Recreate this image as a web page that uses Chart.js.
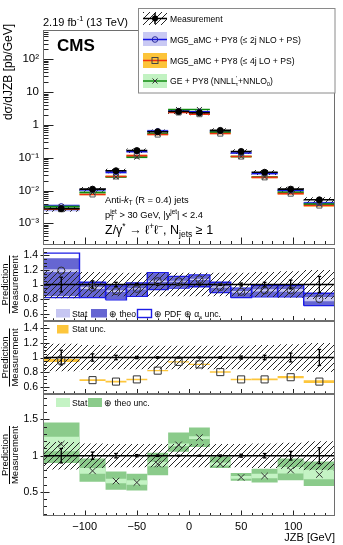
<!DOCTYPE html>
<html>
<head>
<meta charset="utf-8">
<script src="https://cdn.jsdelivr.net/npm/chart.js@4.4.1/dist/chart.umd.min.js"></script>
<style>
html,body{margin:0;padding:0;background:#fff;}
#wrap{position:relative;width:343px;height:545px;overflow:hidden;background:#fff;}
#wrap canvas{position:absolute;left:0;}
</style>
</head>
<body>
<div id="wrap">
<canvas id="cA" width="343" height="250" style="top:0px;width:343px;height:250px"></canvas>
<canvas id="cB" width="343" height="76" style="top:246px;width:343px;height:76px"></canvas>
<canvas id="cC" width="343" height="77" style="top:319px;width:343px;height:77px"></canvas>
<canvas id="cD" width="343" height="155" style="top:390px;width:343px;height:155px"></canvas>
</div>
<script>
// ---------------- data ----------------
const binEdges   = [-140,-105,-80,-60,-40,-20,0,20,40,60,85,110,140];
const measured   = [2.8e-3,1.1e-2,4.0e-2,0.165,0.62,2.55,2.35,0.68,0.155,0.036,1.1e-2,5.2e-3];
const measStat   = [0.10,0.05,0.03,0.015,0.01,0.006,0.006,0.01,0.02,0.03,0.06,0.11];
const measTotal  = [0.19,0.17,0.16,0.16,0.16,0.16,0.16,0.16,0.16,0.17,0.18,0.20];

const nloRatio   = [1.19,0.955,0.91,0.94,1.045,1.045,1.07,0.965,0.90,0.92,0.92,0.80];
const nloStat    = [0.02,0.015,0.012,0.01,0.01,0.008,0.008,0.01,0.012,0.015,0.02,0.03];
const nloTheoLo  = [0.84,0.83,0.80,0.85,0.94,0.96,0.98,0.90,0.83,0.84,0.84,0.72];
const nloTheoHi  = [1.36,1.02,0.97,1.01,1.15,1.10,1.12,1.02,0.94,0.98,0.98,0.87];
const nloPdfLo   = [0.82,0.82,0.79,0.84,0.93,0.95,0.97,0.89,0.82,0.83,0.83,0.71];
const nloPdfHi   = [1.43,1.03,0.98,1.02,1.16,1.11,1.13,1.03,0.95,0.99,0.99,0.88];

const loRatio    = [0.96,0.69,0.67,0.70,0.82,0.94,0.905,0.80,0.70,0.70,0.73,0.67];
const loStat     = [0.02,0.012,0.012,0.01,0.01,0.008,0.008,0.01,0.01,0.012,0.015,0.02];

const geRatio    = [1.16,0.79,0.65,0.63,0.885,1.15,1.25,0.885,0.70,0.72,0.80,0.74];
const geStat     = [0.10,0.04,0.03,0.03,0.03,0.02,0.02,0.02,0.02,0.03,0.045,0.065];
const geTheoLo   = [0.90,0.64,0.53,0.52,0.73,1.055,1.12,0.83,0.655,0.63,0.66,0.58];
const geTheoHi   = [1.46,0.96,0.78,0.75,1.04,1.32,1.39,0.99,0.76,0.82,0.96,0.92];

const logTicks       = [1e-3,1e-2,1e-1,1,10,100];
const logTickLabels  = ['10⁻³','10⁻²','10⁻¹','1','10','10²'];
const ratioTicks     = [0.6,0.8,1.0,1.2,1.4];
const ratioTickLabels= ['0.6','0.8','1','1.2','1.4'];
const geTicks        = [0.5,1,1.5];
const geTickLabels   = ['0.5','1','1.5'];
const xTicks         = [-100,-50,0,50,100];
const xTickLabels    = ['−100','−50','0','50','100'];

// ---------------- helpers ----------------
const FAM = '"Liberation Sans", Arial, Helvetica, sans-serif';
Chart.defaults.font.family = FAM;
Chart.defaults.color = '#000';

const xMinor=[]; for(let v=-130; v<=130; v+=10) if(v%50!==0) xMinor.push(v);
const logMinor=[]; for(let d=-4; d<=2; d++) for(let k=2;k<=9;k++){const v=k*Math.pow(10,d); if(v>2.26e-4&&v<781) logMinor.push(v);}
const ratioMinor=[]; for(let k=11;k<=29;k++){ if(k%4!==0) ratioMinor.push(k*0.05);}
const geMinor=[]; for(let k=2;k<=18;k++){ if(k%5!==0) geMinor.push(k/10);}

const centers = binEdges.slice(0,-1).map((e,i)=>(e+binEdges[i+1])/2);

const hatchTile=document.createElement('canvas'); hatchTile.width=6; hatchTile.height=6;
{const g=hatchTile.getContext('2d'); g.strokeStyle='#262626'; g.lineWidth=1;
 g.beginPath(); g.moveTo(-1,7); g.lineTo(7,-1); g.moveTo(5,7); g.lineTo(7,5); g.moveTo(-1,1); g.lineTo(1,-1); g.stroke();}
const hatch=document.getElementById('cA').getContext('2d').createPattern(hatchTile,'repeat');

function boxSet(lo, hi, o){
  return lo.map((l,i)=>({type:'line',
    data:[{x:binEdges[i],y:l},{x:binEdges[i+1],y:l},{x:binEdges[i+1],y:hi[i]},{x:binEdges[i],y:hi[i]},{x:binEdges[i],y:l}],
    backgroundColor:o.fill||'rgba(0,0,0,0)', borderColor:o.line||'rgba(0,0,0,0)', borderWidth:o.lw||0,
    borderJoinStyle:'miter', fill:o.fill?'shape':false, pointRadius:0, tension:0, order:o.order}));
}
function stepSet(vals, o){
  const d=[]; vals.forEach((v,i)=>{d.push({x:binEdges[i],y:v},{x:binEdges[i+1],y:v}); if(o.gaps) d.push({x:binEdges[i+1],y:null});});
  return {type:'line', data:d, borderColor:o.color, borderWidth:o.lw, pointRadius:0, fill:false, tension:0, spanGaps:false, order:o.order};
}
function errSet(lo, hi, o){
  const d=[]; lo.forEach((l,i)=>{d.push({x:centers[i],y:l},{x:centers[i],y:hi[i]},{x:centers[i],y:null});});
  return {type:'line', data:d, borderColor:o.color, borderWidth:o.lw, pointStyle:'line', pointRadius:o.cap||0,
    pointBorderColor:o.color, pointBorderWidth:o.lw, fill:false, spanGaps:false, order:o.order};
}
function markSet(vals, o){
  return {type:'line', showLine:false, data:vals.map((v,i)=>({x:centers[i],y:v})), pointStyle:o.style, pointRadius:o.r,
    pointBorderColor:o.color, pointBackgroundColor:o.bg||'rgba(0,0,0,0)', pointBorderWidth:o.lw||1, order:o.order};
}
function setFont(ctx,size,bold,italic){ctx.font=(italic?'italic ':'')+(bold?'bold ':'')+size+'px '+FAM;}
function rich(ctx,x,y,parts,size){
  let cx=x;
  for(const p of parts){
    if(p.s==='supsub'){
      setFont(ctx,size*0.68); ctx.fillText(p.t,cx,y-size*0.42); const w1=ctx.measureText(p.t).width;
      ctx.fillText(p.t2,cx,y+size*0.25); const w2=ctx.measureText(p.t2).width; cx+=Math.max(w1,w2); continue;
    }
    let sz=size, dy=0;
    if(p.s==='sup'){sz=size*0.68; dy=-size*0.42;}
    if(p.s==='sub'){sz=size*0.68; dy=size*0.25;}
    setFont(ctx,sz,p.b,p.i); ctx.fillText(p.t,cx,y+dy); cx+=ctx.measureText(p.t).width;
  }
  return cx-x;
}
function frameTicks(chart,cfg){
  const ctx=chart.ctx,a=chart.chartArea,xs=chart.scales.x,ys=chart.scales.y;
  const L=Math.round(a.left)+0.5,R=Math.round(a.right)-0.5,T=Math.round(a.top)+0.5,B=Math.round(a.bottom)-0.5;
  ctx.save(); ctx.lineWidth=1; ctx.strokeStyle='#222'; ctx.beginPath();
  cfg.yMaj.forEach(v=>{const y=Math.round(ys.getPixelForValue(v))+0.5; ctx.moveTo(L-cfg.yOut,y); ctx.lineTo(L+cfg.yMajLen,y);});
  cfg.yMin.forEach(v=>{const y=Math.round(ys.getPixelForValue(v))+0.5; if(y<=T||y>=B) return; ctx.moveTo(L,y); ctx.lineTo(L+cfg.yMinLen,y);});
  xTicks.forEach(v=>{const x=Math.round(xs.getPixelForValue(v))+0.5; ctx.moveTo(x,B); ctx.lineTo(x,B-cfg.xMajLen);});
  xMinor.forEach(v=>{const x=Math.round(xs.getPixelForValue(v))+0.5; ctx.moveTo(x,B); ctx.lineTo(x,B-cfg.xMinLen);});
  ctx.stroke();
  ctx.strokeStyle='#6e6e6e'; ctx.strokeRect(L,T,R-L,B-T);
  ctx.restore();
}
function ratioTitle(ctx,cy){
  ctx.save(); ctx.translate(9.5,cy); ctx.rotate(-Math.PI/2);
  setFont(ctx,9.5); ctx.fillStyle='#000'; ctx.textAlign='center'; ctx.textBaseline='alphabetic';
  ctx.fillText('Prediction',0,-2); ctx.fillText('Measurement',0,8.5);
  const w=ctx.measureText('Measurement').width;
  ctx.strokeStyle='#000'; ctx.lineWidth=1; ctx.beginPath(); ctx.moveTo(-w/2,0); ctx.lineTo(w/2,0); ctx.stroke();
  ctx.restore();
}
function noPad(s){s.paddingTop=0; s.paddingBottom=0; s.paddingLeft=0; s.paddingRight=0;}
function yLin(min,max,ticks,labels){
  return {type:'linear',min:min,max:max,grid:{display:false,drawTicks:false},border:{display:false},
    ticks:{font:{size:10.5},color:'#000',padding:5,autoSkip:false,callback:(v,i)=>labels[i]},
    afterBuildTicks:s=>{s.ticks=ticks.map(v=>({value:v}));},
    afterFit:s=>{s.width=43; noPad(s);}};
}
function xHidden(){return {type:'linear',min:-140,max:140,display:false};}
function baseOpts(pad,y,x){
  return {responsive:false,animation:false,events:[],devicePixelRatio:1,layout:{padding:pad,autoPadding:false},
    plugins:{legend:{display:false},tooltip:{enabled:false}},scales:{x:x||xHidden(),y:y}};
}

// ---------------- top panel ----------------
const mul=(a,b)=>a.map((v,i)=>v*b[i]);
const topSets=[].concat(
  boxSet(mul(measured,nloTheoLo),mul(measured,nloTheoHi),{fill:'rgba(150,150,240,0.75)',order:72}),
  boxSet(mul(measured,loRatio.map((r,i)=>r-loStat[i]-0.03)),mul(measured,loRatio.map((r,i)=>r+loStat[i]+0.03)),{fill:'rgba(252,196,58,0.9)',order:71}),
  boxSet(mul(measured,geRatio.map((r,i)=>r-geStat[i]-0.02)),mul(measured,geRatio.map((r,i)=>r+geStat[i]+0.02)),{fill:'rgba(140,220,140,0.85)',order:70}),
  boxSet(measured.map((m,i)=>m*(1-measTotal[i])),measured.map((m,i)=>m*(1+measTotal[i])),{fill:hatch,order:50}),
  [stepSet(mul(measured,nloRatio),{color:'#1414e6',lw:1.6,gaps:true,order:42}),
   stepSet(mul(measured,geRatio),{color:'#0f8a0f',lw:1.6,gaps:true,order:41}),
   stepSet(mul(measured,loRatio),{color:'#f03010',lw:1.6,gaps:true,order:40}),
   stepSet(measured,{color:'#000',lw:1.6,gaps:true,order:30}),
   errSet(measured.map((m,i)=>m*(1-measStat[i])),measured.map((m,i)=>m*(1+measStat[i])),{color:'#000',lw:1.3,order:25}),
   markSet(mul(measured,loRatio),{style:'rect',r:3.6,color:'#555',lw:1,order:20}),
   markSet(mul(measured,nloRatio),{style:'circle',r:2.6,color:'#2a2aa0',lw:1,order:19}),
   markSet(mul(measured,geRatio),{style:'crossRot',r:3.6,color:'#333',lw:1,order:18}),
   markSet(measured,{style:'circle',r:3,color:'#000',bg:'#000',lw:1,order:5})]
);
const topY={type:'logarithmic',min:2.26e-4,max:781,grid:{display:false,drawTicks:false},border:{display:false},
  ticks:{font:{size:11.5},color:'#000',padding:4,autoSkip:false,callback:(v,i)=>logTickLabels[i]},
  afterBuildTicks:s=>{s.ticks=logTicks.map(v=>({value:v}));},afterFit:s=>{s.width=43; noPad(s);}};

new Chart(document.getElementById('cA'),{type:'line',data:{datasets:topSets},
  options:baseOpts({left:0,right:8,top:30,bottom:5.5},topY),
  plugins:[{id:'decA',afterDraw(chart){
    const ctx=chart.ctx;
    frameTicks(chart,{yMaj:logTicks,yMin:logMinor,yOut:0,yMajLen:10,yMinLen:5,xMajLen:7,xMinLen:3.5});
    ctx.save(); ctx.fillStyle='#000'; ctx.textBaseline='alphabetic';
    rich(ctx,43,26,[{t:'2.19 fb'},{t:'-1',s:'sup'},{t:' (13 TeV)'}],11);
    setFont(ctx,17,true); ctx.fillText('CMS',57,51);
    rich(ctx,105,203,[{t:'Anti-'},{t:'k',i:true},{t:'T',s:'sub'},{t:' (R = 0.4) jets'}],9.3);
    rich(ctx,105,218,[{t:'p'},{t:'jet',t2:'T',s:'supsub'},{t:' > 30 GeV, |y'},{t:'jet',s:'sup'},{t:'| < 2.4'}],9.3);
    rich(ctx,105,234,[{t:'Z/γ'},{t:'*',s:'sup'},{t:' → ℓ'},{t:'+',s:'sup'},{t:'ℓ'},{t:'−',s:'sup'},{t:', N'},{t:'jets',s:'sub'},{t:' ≥ 1'}],12.5);
    ctx.save(); ctx.translate(12,24); ctx.rotate(-Math.PI/2); setFont(ctx,12); ctx.textAlign='right';
    ctx.fillText('dσ/dJZB [pb/GeV]',0,0); ctx.restore();
    ctx.fillStyle='#fff'; ctx.fillRect(138,8,197,85);
    ctx.strokeStyle='#8a8a8a'; ctx.lineWidth=1; ctx.strokeRect(138.5,8.5,196.5,84.5);
    const sx0=143,sx1=167,mx=155;
    ctx.fillStyle=hatch; ctx.fillRect(sx0,12,sx1-sx0,13);
    ctx.strokeStyle='#000'; ctx.lineWidth=1.5; ctx.beginPath(); ctx.moveTo(sx0,18.5); ctx.lineTo(sx1,18.5); ctx.moveTo(mx,13); ctx.lineTo(mx,24); ctx.stroke();
    ctx.fillStyle='#000'; ctx.beginPath(); ctx.arc(mx,18.5,3,0,2*Math.PI); ctx.fill();
    ctx.fillStyle='#c9c9f4'; ctx.fillRect(sx0,32,sx1-sx0,14);
    ctx.strokeStyle='#1414e6'; ctx.lineWidth=1.5; ctx.beginPath(); ctx.moveTo(sx0,39.5); ctx.lineTo(sx1,39.5); ctx.stroke();
    ctx.strokeStyle='#2a2aa0'; ctx.lineWidth=1; ctx.beginPath(); ctx.arc(mx,39.5,2.8,0,2*Math.PI); ctx.stroke();
    ctx.fillStyle='#fcc43a'; ctx.fillRect(sx0,53,sx1-sx0,15);
    ctx.strokeStyle='#f03010'; ctx.lineWidth=1.5; ctx.beginPath(); ctx.moveTo(sx0,60.5); ctx.lineTo(sx1,60.5); ctx.stroke();
    ctx.strokeStyle='#444'; ctx.lineWidth=1; ctx.strokeRect(mx-3,57.5,6,6);
    ctx.fillStyle='#c2f2c2'; ctx.fillRect(sx0,74,sx1-sx0,14);
    ctx.strokeStyle='#0f8a0f'; ctx.lineWidth=1.5; ctx.beginPath(); ctx.moveTo(sx0,81); ctx.lineTo(sx1,81); ctx.stroke();
    ctx.strokeStyle='#333'; ctx.lineWidth=1; ctx.beginPath(); ctx.moveTo(mx-2.5,78.5); ctx.lineTo(mx+2.5,83.5); ctx.moveTo(mx-2.5,83.5); ctx.lineTo(mx+2.5,78.5); ctx.stroke();
    ctx.fillStyle='#000';
    rich(ctx,170,21.5,[{t:'Measurement'}],8.6);
    rich(ctx,170,42.5,[{t:'MG5_aMC + PY8 (≤ 2j NLO + PS)'}],8.6);
    rich(ctx,170,63.5,[{t:'MG5_aMC + PY8 (≤ 4j LO + PS)'}],8.6);
    rich(ctx,170,84,[{t:'GE + PY8 (NNLL'},{t:'\u2032',t2:'τ',s:'supsub'},{t:'+NNLO'},{t:'0',s:'sub'},{t:')'}],8.6);
    ctx.restore();
  }}]});

// ---------------- ratio panels ----------------
const ones=measured.map(v=>v/v);
const measLo=measTotal.map(u=>1-u), measHi=measTotal.map(u=>1+u);
const statLo=measStat.map(u=>1-u), statHi=measStat.map(u=>1+u);
function measureSets(){
  return [].concat(boxSet(measLo,measHi,{fill:hatch,order:50}),
    [stepSet(ones,{color:'#000',lw:1.5,order:30}),
     errSet(statLo,statHi,{color:'#000',lw:1.3,cap:1.8,order:25})]);
}
const rCfg={yMaj:ratioTicks,yMin:ratioMinor,yOut:3,yMajLen:6,yMinLen:3.5,xMajLen:4.5,xMinLen:2.2};

const setsB=[].concat(
  boxSet(nloTheoLo,nloTheoHi,{fill:'#6666d2',order:72}),
  boxSet(nloRatio.map((r,i)=>r-nloStat[i]),nloRatio.map((r,i)=>r+nloStat[i]),{fill:'#c6c6f2',order:71}),
  boxSet(nloPdfLo,nloPdfHi,{line:'#1c1ce6',lw:1.4,order:70}),
  measureSets(),
  [markSet(nloRatio,{style:'circle',r:3.6,color:'#333',lw:1,order:10})]);
new Chart(document.getElementById('cB'),{type:'line',data:{datasets:setsB},
  options:baseOpts({left:0,right:8,top:2,bottom:1},yLin(0.5,1.5,ratioTicks,ratioTickLabels)),
  plugins:[{id:'decB',afterDraw(chart){
    const ctx=chart.ctx; frameTicks(chart,rCfg); ratioTitle(ctx,38.5);
    ctx.save(); ctx.translate(0,-246); ctx.textBaseline='alphabetic';
    ctx.fillStyle='#c6c6f2'; ctx.fillRect(56,309,14,8.5);
    ctx.fillStyle='#6666d2'; ctx.fillRect(91,309,16,8.5);
    ctx.strokeStyle='#1c1ce6'; ctx.lineWidth=1.4; ctx.strokeRect(137.5,309.5,14,8);
    ctx.fillStyle='#000';
    rich(ctx,72,316.5,[{t:'Stat'}],8.6);
    rich(ctx,109,316.5,[{t:'⊕ theo'}],8.6);
    rich(ctx,154,316.5,[{t:'⊕ PDF ⊕ α'},{t:'s',s:'sub'},{t:' unc.'}],8.6);
    ctx.restore();
  }}]});

const setsC=[].concat(
  boxSet(loRatio.map((r,i)=>r-loStat[i]),loRatio.map((r,i)=>r+loStat[i]),{fill:'#fdc63c',order:72}),
  measureSets(),
  [markSet(loRatio,{style:'rect',r:5,color:'#333',lw:1,order:10})]);
new Chart(document.getElementById('cC'),{type:'line',data:{datasets:setsC},
  options:baseOpts({left:0,right:8,top:2,bottom:2},yLin(0.5,1.5,ratioTicks,ratioTickLabels)),
  plugins:[{id:'decC',afterDraw(chart){
    const ctx=chart.ctx; frameTicks(chart,rCfg); ratioTitle(ctx,38.5);
    ctx.save(); ctx.translate(0,-319); ctx.textBaseline='alphabetic';
    ctx.fillStyle='#fdc63c'; ctx.fillRect(57,325,11.5,8.5);
    ctx.fillStyle='#000'; rich(ctx,72,332,[{t:'Stat unc.'}],8.6);
    ctx.restore();
  }}]});

const setsD=[].concat(
  boxSet(geTheoLo,geTheoHi,{fill:'#8bcb8b',order:72}),
  boxSet(geRatio.map((r,i)=>r-geStat[i]),geRatio.map((r,i)=>r+geStat[i]),{fill:'#c4f3c4',order:71}),
  measureSets(),
  [markSet(geRatio,{style:'crossRot',r:4.6,color:'#333',lw:1,order:10})]);
const xBottom={type:'linear',min:-140,max:140,display:true,grid:{display:false,drawTicks:false},border:{display:false},
  ticks:{font:{size:11},color:'#000',padding:4,maxRotation:0,autoSkip:false,callback:(v,i)=>xTickLabels[i]},
  afterBuildTicks:s=>{s.ticks=xTicks.map(v=>({value:v}));},
  title:{display:true,text:'JZB [GeV]',align:'end',font:{size:11},color:'#000',padding:{top:0,bottom:0}},
  afterFit:s=>{s.height=29; noPad(s);}};
new Chart(document.getElementById('cD'),{type:'line',data:{datasets:setsD},
  options:baseOpts({left:0,right:8,top:4,bottom:0},yLin(0.167,1.852,geTicks,geTickLabels),xBottom),
  plugins:[{id:'decD',afterDraw(chart){
    const ctx=chart.ctx;
    frameTicks(chart,{yMaj:geTicks,yMin:geMinor,yOut:3,yMajLen:6,yMinLen:3.5,xMajLen:5,xMinLen:2.5});
    ratioTitle(ctx,65);
    ctx.save(); ctx.translate(0,-390); ctx.textBaseline='alphabetic';
    ctx.fillStyle='#c4f3c4'; ctx.fillRect(56,398,14,9);
    ctx.fillStyle='#8bcb8b'; ctx.fillRect(88,398,14,9);
    ctx.fillStyle='#000';
    rich(ctx,72,406,[{t:'Stat'}],8.6);
    rich(ctx,104,406,[{t:'⊕ theo unc.'}],8.6);
    ctx.restore();
  }}]});
</script>
</body>
</html>
